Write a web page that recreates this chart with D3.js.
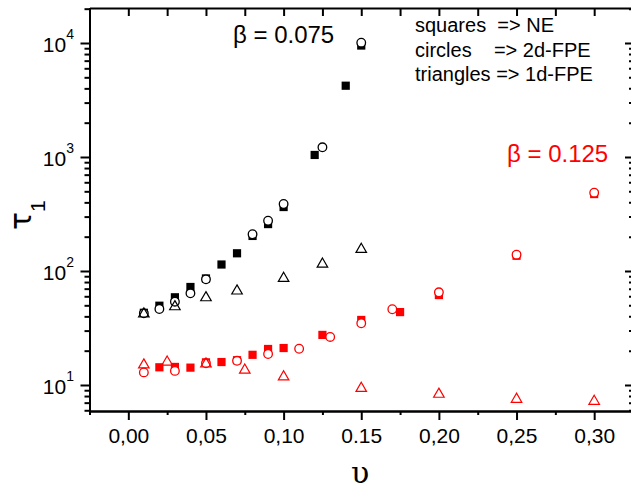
<!DOCTYPE html>
<html><head><meta charset="utf-8">
<script src="https://cdn.jsdelivr.net/npm/d3@7"></script>
<style>
html,body{margin:0;padding:0;background:#fff;}
svg{display:block;font-family:"Liberation Sans",Arial,sans-serif;}
</style>
</head><body>
<svg id="c" width="631" height="491"></svg>
<script>
// ---- data ----
// beta = 0.075 (black)
const blkSqX  = [0.01, 0.02, 0.03, 0.04, 0.05, 0.06, 0.07, 0.08, 0.09, 0.10, 0.12, 0.14, 0.15];
const blkSqY  = [43, 49.6, 58.8, 72.4, 86, 114, 143, 203, 258, 364, 1042, 4220, 9500];
const blkCirX = [0.01, 0.02, 0.03, 0.04, 0.05, 0.08, 0.09, 0.10, 0.125, 0.15];
const blkCirY = [42.5, 46.4, 53.8, 63.7, 84.5, 210, 276, 387, 1216, 10070];
const blkTriX = [0.01, 0.03, 0.05, 0.07, 0.10, 0.125, 0.15];
const blkTriY = [42, 48.6, 58.3, 66.8, 86.3, 115, 155];
// beta = 0.125 (red)
const redSqX  = [0.02, 0.03, 0.04, 0.05, 0.06, 0.07, 0.08, 0.09, 0.10, 0.125, 0.15, 0.175, 0.20, 0.25, 0.30];
const redSqY  = [14.3, 14.4, 14.2, 15.8, 15.9, 16.5, 18.4, 20.7, 21.1, 27.5, 37.2, 43.6, 61.5, 136, 473];
const redCirX = [0.01, 0.03, 0.05, 0.07, 0.09, 0.11, 0.13, 0.15, 0.17, 0.20, 0.25, 0.30];
const redCirY = [12.9, 13.3, 15.5, 16.3, 18.7, 20.8, 26.4, 34.8, 46.2, 65, 139, 486];
const redTriX = [0.01, 0.025, 0.05, 0.075, 0.10, 0.15, 0.20, 0.25, 0.30];
const redTriY = [15.0, 15.9, 15.3, 13.5, 11.8, 9.35, 8.3, 7.5, 7.2];

const xMajor = [0, 0.05, 0.10, 0.15, 0.20, 0.25, 0.30];
const xMajorLabels = ["0,00", "0,05", "0,10", "0.15", "0,20", "0,25", "0,30"];
const xMinor = [-0.025, 0.025, 0.075, 0.125, 0.175, 0.225, 0.275, 0.325];
const yMajor = [10, 100, 1000, 10000];
const yMajorExp = ["1", "2", "3", "4"];
const legendLines = ["squares  => NE", "circles    => 2d-FPE", "triangles => 1d-FPE"];
const betaLabels = ["\u03B2 = 0.075", "\u03B2 = 0.125"];

// ---- scales ----
const svg = d3.select("#c");
const x = d3.scaleLinear().domain([-0.025, 0.325]).range([89.5, 633]);
const y = d3.scaleLog().domain([5.914, 20277]).range([411, 8]);

const yMinor = [];
[1, 10, 100, 1000, 10000].forEach(d => {
  for (let k = 2; k <= 9; k++) {
    const v = k * d;
    if (v > y.domain()[0] && v < y.domain()[1]) yMinor.push(v);
  }
});
const xTop = d3.range(-1, 14).map(i => +(i * 0.025).toFixed(3));

function styleAxis(g, w) {
  g.select(".domain").attr("stroke", "#000").attr("stroke-width", 2);
  g.selectAll(".tick line").attr("stroke", "#000").attr("stroke-width", w);
}

// bottom axis
const gB = svg.append("g").attr("transform", "translate(0,411)")
  .call(d3.axisBottom(x).tickValues(xMajor).tickSize(9).tickSizeOuter(0).tickPadding(8)
    .tickFormat((d, i) => xMajorLabels[i]));
styleAxis(gB, 2);
gB.selectAll("text").attr("font-size", 21).attr("fill", "#000")
  .attr("font-family", '"Liberation Sans",Arial,sans-serif');
const gB2 = svg.append("g").attr("transform", "translate(0,411)")
  .call(d3.axisBottom(x).tickValues(xMinor).tickSize(4).tickSizeOuter(0).tickFormat(""));
styleAxis(gB2, 2);

// top axis (inward ticks)
const gT = svg.append("g").attr("transform", "translate(0,8)")
  .call(d3.axisTop(x).tickValues(xTop).tickSize(-8).tickSizeOuter(0).tickFormat(""));
styleAxis(gT, 2);

// left axis
const gL = svg.append("g").attr("transform", "translate(89.5,0)")
  .call(d3.axisLeft(y).tickValues(yMajor).tickSize(9).tickSizeOuter(0).tickFormat(""));
styleAxis(gL, 2);
const gL2 = svg.append("g").attr("transform", "translate(89.5,0)")
  .call(d3.axisLeft(y).tickValues(yMinor).tickSize(5).tickSizeOuter(0).tickFormat(""));
styleAxis(gL2, 2);

// right axis (inward ticks)
const gR = svg.append("g").attr("transform", "translate(633,0)")
  .call(d3.axisRight(y).tickValues(yMajor).tickSize(-8).tickSizeOuter(0).tickFormat(""));
styleAxis(gR, 2);
const gR2 = svg.append("g").attr("transform", "translate(633,0)")
  .call(d3.axisRight(y).tickValues(yMinor).tickSize(-4).tickSizeOuter(0).tickFormat(""));
styleAxis(gR2, 2);

// y tick labels 10^n
yMajor.forEach((v, i) => {
  const t = svg.append("text").attr("x", 74).attr("y", y(v) + 9)
    .attr("text-anchor", "end").attr("fill", "#000");
  t.append("tspan").attr("font-size", 21).text("10");
  t.append("tspan").attr("font-size", 14).attr("dy", -13).text(yMajorExp[i]);
});

// axis titles
const yt = svg.append("text").attr("transform", "translate(31,230) rotate(-90)")
  .attr("fill", "#000");
yt.append("tspan").attr("font-size", 30).attr("font-family", '"DejaVu Sans",sans-serif').text("\u03C4");
yt.append("tspan").attr("font-size", 21).attr("dy", 14).text("1");

svg.append("text").attr("x", 360).attr("y", 483).attr("text-anchor", "middle")
  .attr("font-size", 30).attr("font-family", '"DejaVu Serif",serif').attr("fill", "#000")
  .text("\u03C5");

// ---- markers ----
const tri = d3.symbol().type(d3.symbolTriangle).size(48);
function drawSeries(color, sqX, sqY, cX, cY, tX, tY) {
  const g = svg.append("g");
  g.selectAll(null).data(sqX.map((d, i) => [d, sqY[i]])).enter().append("rect")
    .attr("x", d => x(d[0]) - 4.1).attr("y", d => y(d[1]) - 4.1)
    .attr("width", 8.2).attr("height", 8.2).attr("fill", color);
  g.selectAll(null).data(cX.map((d, i) => [d, cY[i]])).enter().append("circle")
    .attr("cx", d => x(d[0])).attr("cy", d => y(d[1])).attr("r", 4.3)
    .attr("fill", "#fff").attr("stroke", color).attr("stroke-width", 1.3);
  g.selectAll(null).data(tX.map((d, i) => [d, tY[i]])).enter().append("path")
    .attr("d", tri).attr("transform", d => `translate(${x(d[0])},${y(d[1])})`)
    .attr("fill", "none").attr("stroke", color).attr("stroke-width", 1.2);
}
drawSeries("#000", blkSqX, blkSqY, blkCirX, blkCirY, blkTriX, blkTriY);
drawSeries("#ff0000", redSqX, redSqY, redCirX, redCirY, redTriX, redTriY);

// ---- annotations ----
svg.append("text").attr("x", 233).attr("y", 43).attr("font-size", 24).attr("fill", "#000").text(betaLabels[0]);
svg.append("text").attr("x", 507).attr("y", 162).attr("font-size", 24).attr("fill", "#ff0000").text(betaLabels[1]);

legendLines.forEach((s, i) => {
  svg.append("text").attr("x", 415).attr("y", 32.3 + i * 24.4)
    .attr("font-size", 20).attr("fill", "#000").attr("xml:space", "preserve")
    .style("white-space", "pre").text(s);
});
</script>
</body></html>
